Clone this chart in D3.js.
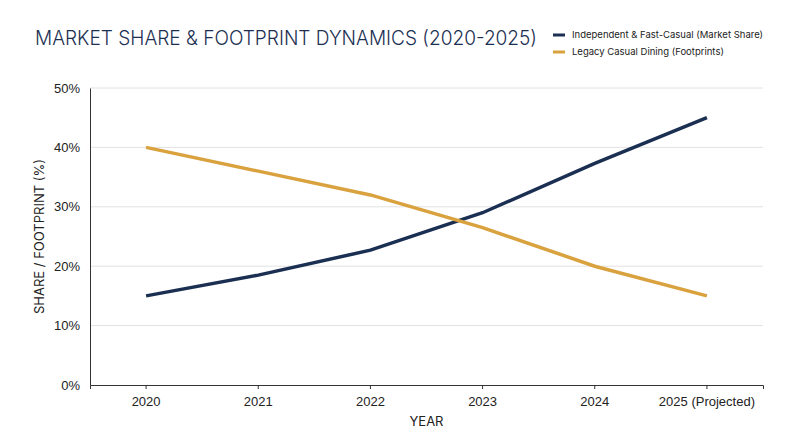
<!DOCTYPE html>
<html><head><meta charset="utf-8">
<script src="https://cdn.jsdelivr.net/npm/d3@7"></script>
<style>body{margin:0;background:#fff}svg{font-family:Inter,"Noto Sans",sans-serif}</style>
</head><body><svg id="chart" width="800" height="447"></svg>
<script>
const years = ['2020', '2021', '2022', '2023', '2024', '2025 (Projected)'];
const independent = [15, 18.5, 22.7, 29, 37.3, 45];
const legacy = [40, 36, 32, 26.5, 20, 15];
const yTicks = [0, 10, 20, 30, 40, 50];
const seriesNames = ['Independent & Fast-Casual (Market Share)', 'Legacy Casual Dining (Footprints)'];
const colors = ['#1b2f52', '#d9a23e'];

const svg = d3.select('#chart');
const margin = {top: 88, right: 37, bottom: 62, left: 90};
const width = 800, height = 447;

const x = d3.scaleBand().domain(years).range([margin.left, width - margin.right]);
const y = d3.scaleLinear().domain([0, 50]).range([height - margin.bottom, margin.top]);

// grid
svg.append('g').selectAll('line').data(yTicks.slice(1)).enter().append('line')
  .attr('x1', margin.left).attr('x2', width - margin.right)
  .attr('y1', d => y(d)).attr('y2', d => y(d))
  .attr('stroke', '#e2e2e2');

const yAxis = svg.append('g').attr('transform', `translate(${margin.left},0)`)
  .call(d3.axisLeft(y).tickValues(yTicks).tickFormat(d => d + '%').tickSize(0).tickPadding(10));
yAxis.select('.domain').attr('stroke', '#333');
yAxis.selectAll('text').attr('font-size', 13).attr('fill', '#222');

const xAxis = svg.append('g').attr('transform', `translate(0,${height - margin.bottom})`)
  .call(d3.axisBottom(x).tickSize(4).tickPadding(8));
xAxis.select('.domain').attr('stroke', '#333');
xAxis.selectAll('line').attr('stroke', '#333');
xAxis.selectAll('text').attr('font-size', 13).attr('fill', '#222');

const line = d3.line().x((d, i) => x(years[i]) + x.bandwidth() / 2).y(d => y(d));
[independent, legacy].forEach((s, k) => {
  svg.append('path').datum(s).attr('d', line)
    .attr('fill', 'none').attr('stroke', colors[k]).attr('stroke-width', 3.5);
});

svg.append('text').attr('x', 35).attr('y', 45).attr('font-size', 19.5).attr('fill', '#1b2f52')
  .attr('font-weight', 300).attr('textLength', 502).attr('lengthAdjust', 'spacingAndGlyphs')
  .text('MARKET SHARE & FOOTPRINT DYNAMICS (2020-2025)');

const leg = svg.append('g').selectAll('g').data(seriesNames).enter().append('g')
  .attr('transform', (d, i) => `translate(553,${35 + i * 17})`);
leg.append('line').attr('x1', 0).attr('x2', 12).attr('stroke', (d, i) => colors[i]).attr('stroke-width', 3);
leg.append('text').attr('x', 19).attr('dy', '0.35em').attr('font-size', 9.5).attr('fill', '#222').text(d => d);

svg.append('text').attr('transform', `translate(44,${(margin.top + height - margin.bottom) / 2}) rotate(-90)`)
  .attr('text-anchor', 'middle').attr('font-size', 13).attr('fill', '#222').text('SHARE / FOOTPRINT (%)');
svg.append('text').attr('x', (margin.left + width - margin.right) / 2).attr('y', 426)
  .attr('text-anchor', 'middle').attr('font-size', 13).attr('fill', '#222').text('YEAR');
</script></body></html>
